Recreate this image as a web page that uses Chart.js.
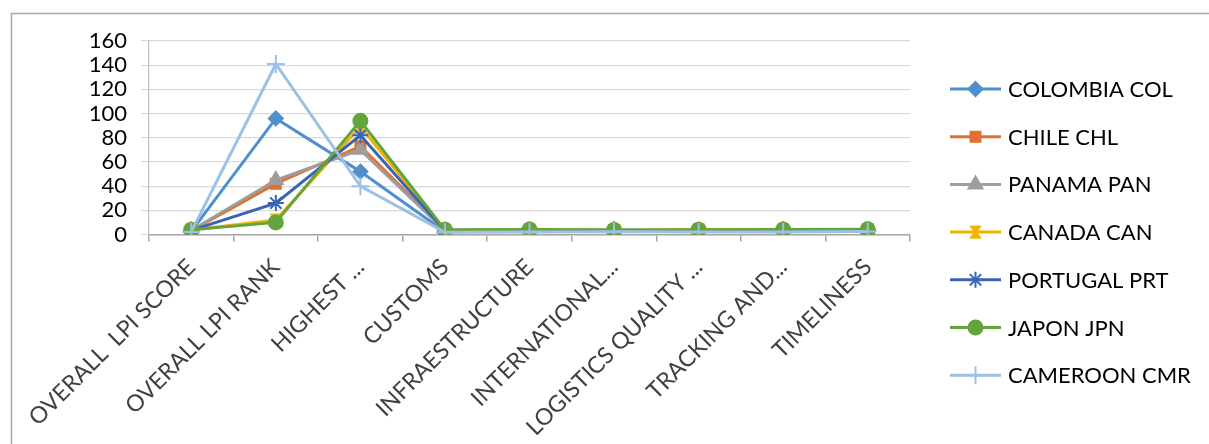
<!DOCTYPE html>
<html>
<head>
<meta charset="utf-8">
<script src="https://cdn.jsdelivr.net/npm/chart.js@4"></script>
<style>
  html, body { margin: 0; padding: 0; background: #fff; }
  #wrap { width: 1209px; height: 444px; position: relative; }
</style>
</head>
<body>
<div id="wrap"><canvas id="myChart" width="1209" height="444"></canvas></div>
<script>
// Categories (axis labels as shown, truncated like the original)
const categories = ['OVERALL  LPI SCORE', 'OVERALL LPI RANK', 'HIGHEST ...', 'CUSTOMS', 'INFRAESTRUCTURE',
    'INTERNATIONAL...', 'LOGISTICS QUALITY ...', 'TRACKING AND...', 'TIMELINESS'];

// Series values
const colombia = [2.61, 96, 52, 2.21, 2.67, 2.55, 2.55, 2.65, 3.05];
const chile    = [3.25, 42, 73, 3.17, 3.0, 3.3, 3.17, 3.3, 3.6];
const panama   = [3.34, 45, 70, 3.13, 3.28, 3.65, 3.18, 3.42, 3.35];
const canada   = [3.73, 12, 89, 3.6, 3.75, 3.38, 3.9, 3.81, 3.98];
const portugal = [3.41, 26, 82, 3.17, 3.34, 3.5, 3.33, 3.4, 3.7];
const japon    = [3.97, 10, 94, 3.85, 4.1, 3.7, 4.0, 4.05, 4.25];
const cameroon = [2.15, 141, 40, 1.9, 2.05, 2.2, 2.15, 2.15, 2.4];

const yMax = 160;
const yStep = 20;

// hourglass marker like the Excel "x" marker at small size
function hourglass(color) {
    const c = document.createElement('canvas');
    c.width = 15; c.height = 15;
    const g = c.getContext('2d');
    g.fillStyle = color;
    g.beginPath();
    g.moveTo(1, 1); g.lineTo(14, 1); g.lineTo(9, 7.5); g.lineTo(14, 14);
    g.lineTo(1, 14); g.lineTo(6, 7.5); g.closePath();
    g.fill();
    return c;
}

function series(label, data, color, style, radius) {
    return {
        label: label,
        data: data,
        borderColor: color,
        backgroundColor: color,
        pointBackgroundColor: color,
        pointBorderColor: color,
        borderWidth: 3,
        pointStyle: style,
        pointRadius: radius,
        pointBorderWidth: 2,
        tension: 0,
        fill: false
    };
}

const datasets = [
    series('COLOMBIA COL', colombia, '#4f8fcb', 'rectRot', 7),
    series('CHILE CHL', chile, '#e0702c', 'rect', 7),
    series('PANAMA PAN', panama, '#9d9d9d', 'triangle', 8),
    series('CANADA CAN', canada, '#f2b200', hourglass('#f2b200'), 7),
    series('PORTUGAL PRT', portugal, '#3a64b8', 'star', 8),
    series('JAPON JPN', japon, '#64a43c', 'circle', 7),
    series('CAMEROON CMR', cameroon, '#9dc1e6', 'cross', 9)
];
// later series drawn on top, like the original
datasets.forEach((d, i) => { d.order = datasets.length - i; });

const frameAndLegend = {
    id: 'frameAndLegend',
    afterDraw(chart) {
        const c = chart.ctx;
        c.save();
        // outer chart frame (only top/left visible)
        c.strokeStyle = '#a6a6a6';
        c.lineWidth = 1.5;
        c.strokeRect(11.5, 13.5, 1400, 600);

        // legend
        c.font = '22px Lato';
        c.textBaseline = 'middle';
        chart.data.datasets.forEach((d, i) => {
            const y = 89 + i * 47.7;
            c.strokeStyle = d.borderColor;
            c.fillStyle = d.borderColor;
            c.lineWidth = 3;
            c.beginPath();
            c.moveTo(950, y);
            c.lineTo(1001, y);
            c.stroke();
            c.lineWidth = d.pointBorderWidth;
            Chart.helpers.drawPoint(c, {
                pointStyle: d.pointStyle, radius: d.pointRadius, borderWidth: d.pointBorderWidth, rotation: 0
            }, 975.5, y);
            c.fillStyle = '#000';
            c.fillText(d.label, 1008, y + 1);
        });
        c.restore();
    }
};

const ctx = document.getElementById('myChart').getContext('2d');
const lpiChart = new Chart(ctx, {
    type: 'line',
    data: { labels: categories, datasets: datasets },
    options: {
        responsive: false,
        animation: false,
        layout: { padding: { left: 0, right: 299, top: 41, bottom: 0 } },
        plugins: { legend: { display: false }, tooltip: { enabled: false } },
        scales: {
            x: {
                offset: true,
                grid: { offset: true, drawOnChartArea: false, tickLength: 7, color: '#a6a6a6', lineWidth: 1.5 },
                border: { color: '#a6a6a6', width: 1.5 },
                ticks: {
                    color: '#404040',
                    font: { family: 'Lato', size: 23 },
                    minRotation: 45, maxRotation: 45, autoSkip: false, padding: 12
                },
                afterFit(scale) {
                    scale.height = 209.5;
                    scale.paddingLeft = 0;
                    scale.paddingRight = 0;
                }
            },
            y: {
                min: 0, max: yMax,
                grid: { color: '#d9d9d9', lineWidth: 1.2, tickLength: 8 },
                border: { color: '#bfbfbf', width: 1.2 },
                ticks: { stepSize: yStep, autoSkip: false, color: '#000', font: { family: 'Lato', size: 22 }, padding: 14 },
                afterFit(scale) { scale.width = 149; }
            }
        }
    },
    plugins: [frameAndLegend]
});
</script>
</body>
</html>
